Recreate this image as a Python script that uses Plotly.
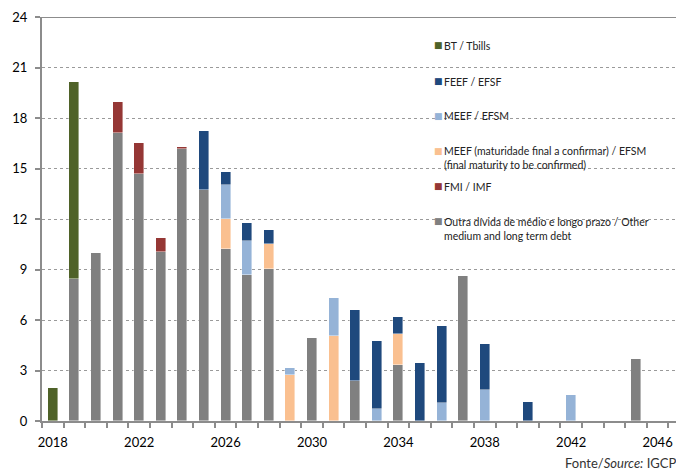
import plotly.graph_objects as go

years = list(range(2018, 2048))

# values in EUR billions (None = no bar)
bt_tbills = [1.94, 11.68] + [None] * 28
other_debt = [None, 8.44, 9.96, 17.09, 14.66, 10.06, 16.16, 13.73, 10.24, 8.69,
              9.01, None, 4.95, None, 2.36, None, 3.33, None, None, 8.62,
              None, None, None, None, None, None, None, 3.66, None, None]
fmi_imf = [None, None, None, 1.86, 1.86, 0.79, 0.12] + [None] * 23
feef_efsf = [None, None, None, None, None, None, None, 3.52, 0.79, 1.03,
             0.79, None, None, None, 4.22, 4.04, 1.05, 3.47, 4.59, None,
             2.74, None, 1.11, None, None, None, None, None, None, None]
meef_efsm = [None, None, None, None, None, None, None, None, 2.00, 2.02,
             None, 0.40, None, 2.26, None, 0.71, None, None, 1.05, None,
             1.82, None, None, None, 1.53, None, None, None, None, None]
meef_tbc = [None, None, None, None, None, None, None, None, 1.76, None,
            1.53, 2.73, None, 5.03, None, None, 1.82, None, None, None,
            None, None, None, None, None, None, None, None, None, None]

y_ticks = [0, 3, 6, 9, 12, 15, 18, 21, 24]
x_ticks = [2018, 2022, 2026, 2030, 2034, 2038, 2042, 2046]

C_BT = "#4F6228"
C_EFSF = "#1F497D"
C_EFSM = "#95B3D7"
C_TBC = "#FAC090"
C_IMF = "#953735"
C_OTHER = "#808080"

# stacking order bottom -> top
series = [
    ("Outra dívida de médio e longo prazo / Other medium and long term debt", other_debt, C_OTHER),
    ("MEEF (maturidade final a confirmar) / EFSM (final maturity to be confirmed)", meef_tbc, C_TBC),
    ("MEEF / EFSM", meef_efsm, C_EFSM),
    ("FEEF / EFSF", feef_efsf, C_EFSF),
    ("FMI / IMF", fmi_imf, C_IMF),
    ("BT / Tbills", bt_tbills, C_BT),
]

fig = go.Figure()
for name, vals, col in series:
    fig.add_trace(go.Bar(
        x=years, y=vals, name=name, width=0.46,
        marker=dict(color=col, line=dict(color="rgba(255,255,255,0.7)", width=0.6)),
        showlegend=False,
    ))

FONT = "Lato"
PLOT_W = 642
PLOT_H = 404
fig.update_layout(
    width=676, height=464,
    margin=dict(l=34, r=0, t=9, b=51),
    barmode="stack",
    plot_bgcolor="white", paper_bgcolor="white",
    font=dict(family=FONT, size=12, color="black"),
    bargap=0,
)
fig.update_xaxes(
    range=[2017.5, 2017.5 + PLOT_W / 21.6],
    tickvals=x_ticks, ticks="", ticklabelstandoff=8,
    tickfont=dict(size=13, family=FONT, color="black"),
    showgrid=False, zeroline=False,
    showline=True, linecolor="#8C8C8C", linewidth=2,
    minor=dict(tick0=2017.5, dtick=1, ticks="outside", ticklen=5,
               tickcolor="#8C8C8C", tickwidth=1.5, showgrid=False),
)
fig.update_yaxes(
    range=[0, 24], tickvals=y_ticks,
    ticks="outside", ticklen=5, tickcolor="#8C8C8C", tickwidth=1.5,
    ticklabelstandoff=5,
    tickfont=dict(size=13, family=FONT, color="black"),
    showgrid=True, gridcolor="#9A9A9A", griddash="dot", gridwidth=1,
    zeroline=False,
    showline=True, linecolor="#8C8C8C", linewidth=2,
)
# solid top border at 24
fig.add_shape(type="line", xref="paper", yref="y", x0=0, x1=1, y0=24, y1=24,
              line=dict(color="#8C8C8C", width=2))

# legend built from text (positions given in page pixels of the reference)
PX0, PY0 = 42, 17


def px(xp):
    return (xp - PX0) / PLOT_W


def py(yp):
    return 1 - (yp - PY0) / PLOT_H


legend_items = [
    ("BT / Tbills", C_BT, 45),
    ("FEEF / EFSF", C_EFSF, 81),
    ("MEEF / EFSM", C_EFSM, 116),
    ("MEEF (maturidade final a confirmar) / EFSM<br>(final maturity to be confirmed)", C_TBC, 151),
    ("FMI / IMF", C_IMF, 186),
    ("Outra dívida de médio e longo prazo / Other<br>medium and long term debt", C_OTHER, 221),
]
for text, col, ypix in legend_items:
    fig.add_annotation(xref="paper", yref="paper",
                       x=px(438.7), y=py(ypix), xanchor="center", yanchor="middle",
                       text="■", showarrow=False,
                       font=dict(size=9, color=col, family="DejaVu Sans"))
    fig.add_annotation(xref="paper", yref="paper",
                       x=px(442), y=py(ypix - 7.5), xanchor="left", yanchor="top",
                       align="left", text=text, showarrow=False,
                       font=dict(size=10.5, color="#222222", family=FONT))

fig.add_annotation(xref="paper", yref="paper", x=px(678), y=py(463),
                   xanchor="right", yanchor="middle", showarrow=False,
                   text="Fonte/<i>Source:</i> IGCP",
                   font=dict(size=13, color="#333333", family=FONT))

fig.write_html("out.html")
